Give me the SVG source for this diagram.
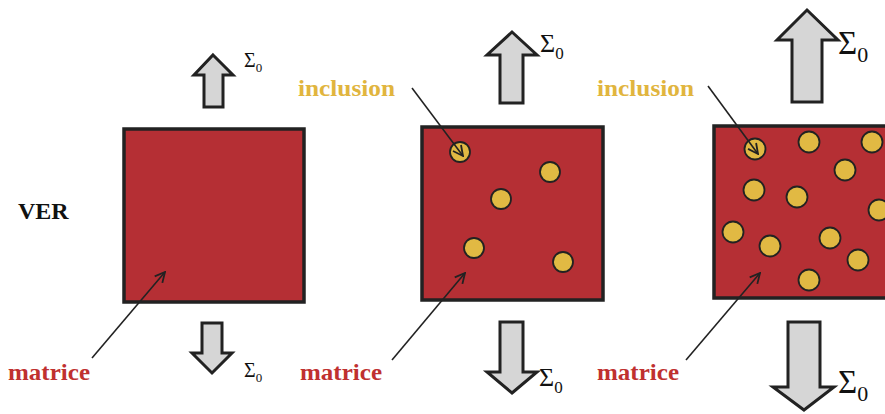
<svg xmlns="http://www.w3.org/2000/svg" width="885" height="414" viewBox="0 0 885 414">
<defs>
<style>
.box{fill:#b52f34;stroke:#222;stroke-width:3.5}
.inc{fill:#e1b943;stroke:#222;stroke-width:1.8}
.load{fill:#d6d6d6;stroke:#222;stroke-width:3;stroke-linejoin:miter}
.lbl{font-family:"Liberation Serif",serif;font-weight:bold;font-size:24px}
.sig{font-family:"Liberation Serif",serif;fill:#111}
.lead{stroke:#222;stroke-width:1.6;fill:none}
</style>
<marker id="open" viewBox="0 0 12 12" refX="11" refY="6" markerWidth="12" markerHeight="12" markerUnits="userSpaceOnUse" orient="auto">
<path d="M1,1 L11,6 L1,11" fill="none" stroke="#222" stroke-width="1.8"/>
</marker>
</defs>
<rect width="885" height="414" fill="#fff"/>

<g id="ver-label"><text class="lbl" x="18" y="219" fill="#111">VER</text></g>

<g id="panel1">
<rect class="box" x="124" y="129" width="180" height="173"/>
<path class="load" d="M213,55 L233,75 L223,75 L223,107 L204,107 L204,75 L194,75 Z"/>
<text class="sig" x="244" y="67" font-size="20">Σ<tspan font-size="13" dy="5">0</tspan></text>
<path class="load" d="M212,373 L232,353 L222,353 L222,323 L202,323 L202,353 L192,353 Z"/>
<text class="sig" x="244" y="377" font-size="20">Σ<tspan font-size="13" dy="5">0</tspan></text>
<text class="lbl" x="8" y="380" fill="#c0302f" textLength="82" lengthAdjust="spacingAndGlyphs">matrice</text>
</g>

<g id="panel2">
<rect class="box" x="422" y="127" width="181" height="173"/>
<circle class="inc" cx="460" cy="152" r="10"/>
<circle class="inc" cx="550" cy="172" r="10"/>
<circle class="inc" cx="501" cy="199" r="10"/>
<circle class="inc" cx="474" cy="248" r="10"/>
<circle class="inc" cx="563" cy="262" r="10"/>
<path class="load" d="M512,32 L537,55 L523,55 L523,103 L500,103 L500,55 L487,55 Z"/>
<text class="sig" x="540" y="52" font-size="26">Σ<tspan font-size="17" dy="7">0</tspan></text>
<path class="load" d="M512,393 L537,372 L523,372 L523,322 L500,322 L500,372 L487,372 Z"/>
<text class="sig" x="539" y="386" font-size="26">Σ<tspan font-size="17" dy="7">0</tspan></text>
<text class="lbl" x="298" y="96" fill="#e1b53e" textLength="97" lengthAdjust="spacingAndGlyphs">inclusion</text>
<text class="lbl" x="300" y="380" fill="#c0302f" textLength="82" lengthAdjust="spacingAndGlyphs">matrice</text>
</g>

<g id="panel3">
<rect class="box" x="714" y="126" width="190" height="172"/>
<circle class="inc" cx="755" cy="149" r="10.5"/>
<circle class="inc" cx="809" cy="142" r="10.5"/>
<circle class="inc" cx="872" cy="142" r="10.5"/>
<circle class="inc" cx="845" cy="170" r="10.5"/>
<circle class="inc" cx="754" cy="190" r="10.5"/>
<circle class="inc" cx="797" cy="197" r="10.5"/>
<circle class="inc" cx="879" cy="210" r="10.5"/>
<circle class="inc" cx="733" cy="232" r="10.5"/>
<circle class="inc" cx="770" cy="246" r="10.5"/>
<circle class="inc" cx="830" cy="238" r="10.5"/>
<circle class="inc" cx="858" cy="260" r="10.5"/>
<circle class="inc" cx="809" cy="280" r="10.5"/>
<path class="load" d="M807,10 L838,40 L822,40 L822,102 L792,102 L792,40 L777,40 Z"/>
<text class="sig" x="838" y="54" font-size="33">Σ<tspan font-size="22" dy="8">0</tspan></text>
<path class="load" d="M804,410 L834,387 L820,387 L820,322 L788,322 L788,387 L773,387 Z"/>
<text class="sig" x="838" y="393" font-size="33">Σ<tspan font-size="22" dy="8">0</tspan></text>
<text class="lbl" x="597" y="96" fill="#e1b53e" textLength="97" lengthAdjust="spacingAndGlyphs">inclusion</text>
<text class="lbl" x="597" y="380" fill="#c0302f" textLength="82" lengthAdjust="spacingAndGlyphs">matrice</text>
</g>

<g id="connectors">
<line class="lead" x1="92" y1="358" x2="165" y2="272" marker-end="url(#open)"/>
<line class="lead" x1="392" y1="360" x2="465" y2="273" marker-end="url(#open)"/>
<line class="lead" x1="686" y1="360" x2="760" y2="273" marker-end="url(#open)"/>
<line class="lead" x1="412" y1="88" x2="463" y2="156" marker-end="url(#open)"/>
<line class="lead" x1="708" y1="86" x2="758" y2="154" marker-end="url(#open)"/>
</g>
</svg>
